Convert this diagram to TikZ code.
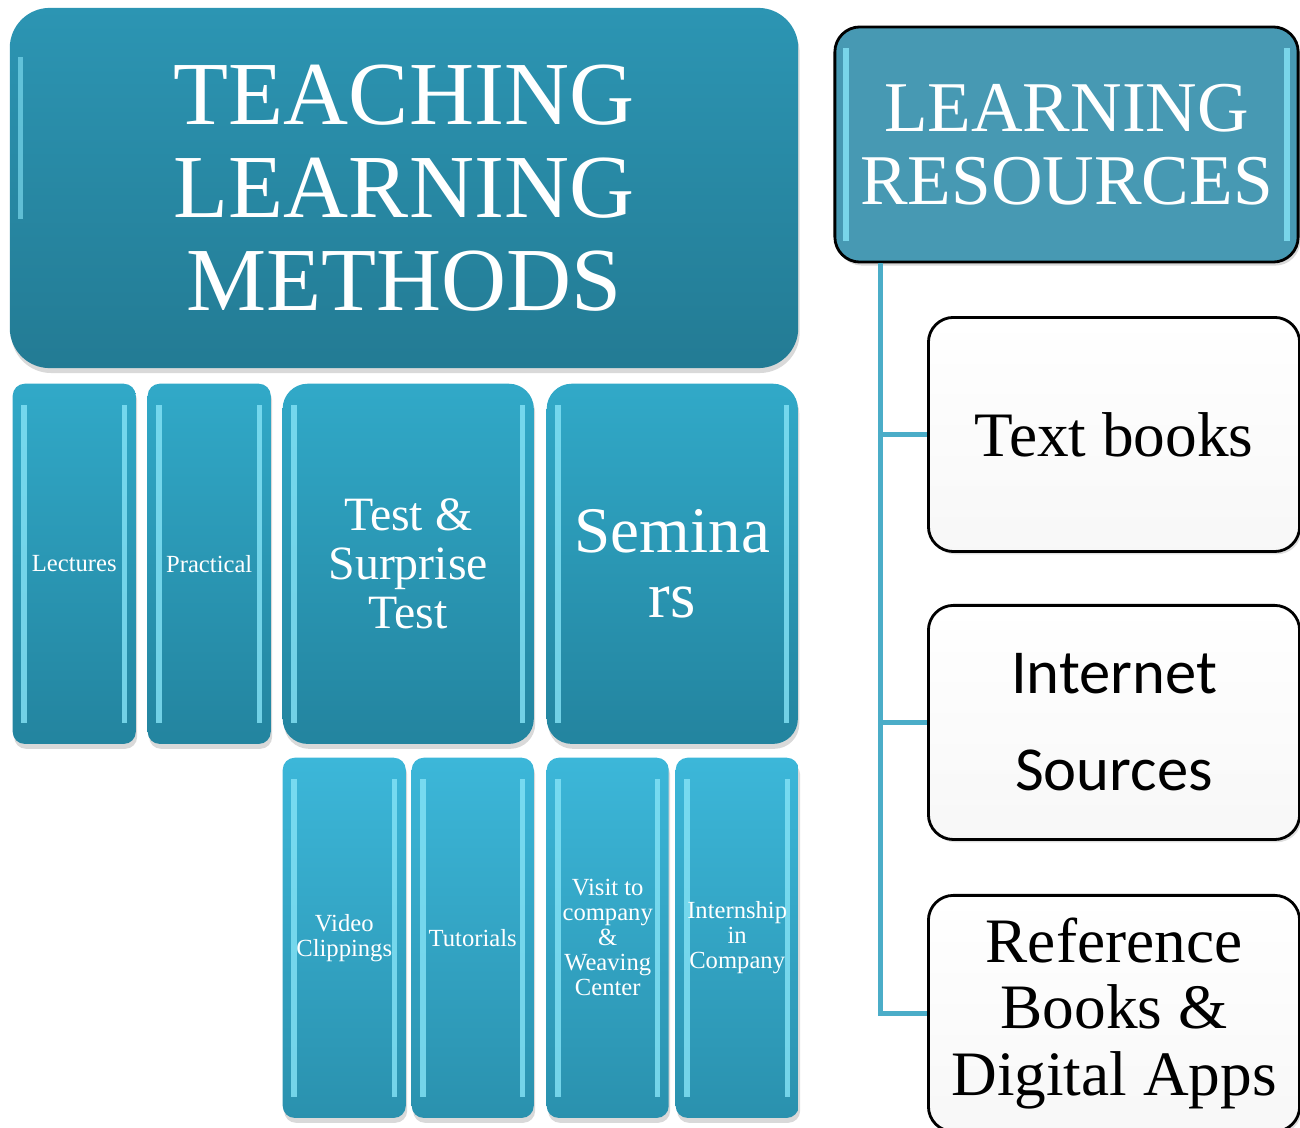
\documentclass[tikz,border=0pt]{standalone}
\usepackage{fontspec}
\setmainfont{Liberation Serif}
\newfontfamily\carlito{Carlito}
\usetikzlibrary{positioning,shadows}

\definecolor{tlmtop}{HTML}{2C95B3}
\definecolor{tlmbot}{HTML}{237B94}
\definecolor{rowtop}{HTML}{31A9C8}
\definecolor{rowbot}{HTML}{23849F}
\definecolor{lowtop}{HTML}{3CB7D9}
\definecolor{lowbot}{HTML}{2A91AE}
\definecolor{resfill}{HTML}{4799B3}
\definecolor{linkcol}{HTML}{4BADC8}
\definecolor{glintcol}{HTML}{86E4F7}

\begin{document}
\begin{tikzpicture}[x=0.01cm,y=-0.01cm,
		glint/.style={path picture={
			\draw[glintcol, line width=1.6pt, opacity=0.8]
			([xshift=3.2pt,yshift=-6pt]path picture bounding box.north west) --
			([xshift=3.2pt,yshift=6pt]path picture bounding box.south west);
			\draw[glintcol, line width=1.6pt, opacity=0.8]
			([xshift=-3.2pt,yshift=-6pt]path picture bounding box.north east) --
			([xshift=-3.2pt,yshift=6pt]path picture bounding box.south east);}},
		method/.style={draw=none, text=white, align=center, inner sep=1pt,
			rounded corners=0.12cm, top color=rowtop, bottom color=rowbot,
			minimum height=3.6cm, glint,
			drop shadow={shadow xshift=0.4pt, shadow yshift=-1.4pt, opacity=0.3}},
		slim/.style={method, minimum width=1.23cm, font=\fontsize{7}{7.1}\selectfont},
		wide/.style={method, minimum width=2.51cm, rounded corners=0.25cm},
		lowbox/.style={slim, top color=lowtop, bottom color=lowbot},
		source/.style={draw=black, line width=0.8pt, rounded corners=0.25cm,
			top color=white, bottom color=black!3, align=center,
			minimum width=3.71cm, minimum height=2.34cm, inner sep=1pt,
			drop shadow={shadow xshift=0.6pt, shadow yshift=-0.8pt, opacity=0.25}},
		link/.style={draw=linkcol, line width=1.4pt}
		]
		\useasboundingbox (0,0) rectangle (1300,1127);
		
		% teaching learning methods
		\node[method, minimum width=7.88cm, rounded corners=0.4cm,
		top color=tlmtop, bottom color=tlmbot, path picture={
			\draw[glintcol, line width=1.4pt, opacity=0.6]
			([xshift=3pt,yshift=-14pt]path picture bounding box.north west) --
			([xshift=3pt,yshift=-60pt]path picture bounding box.north west);},
		font=\fontsize{25.6}{26.5}\selectfont](TLM) at (404,188)
		{TEACHING\\LEARNING\\METHODS};
		
		\node[slim, anchor=north west](lec) at (12,383){Lectures};
		\node[slim, right=0.105cm of lec](prac){Practical};
		\node[wide, right=0.105cm of prac,
		font=\fontsize{13.6}{14}\selectfont](test){Test \&\\Surprise\\Test};
		\node[wide, right=0.115cm of test,
		font=\fontsize{18.5}{18.5}\selectfont](sem){Semina\\rs};
		
		\node[lowbox, anchor=north west](video) at (282,757){Video\\Clippings};
		\node[lowbox, right=0.045cm of video, minimum width=1.22cm](tut){Tutorials};
		\node[lowbox, right=0.115cm of tut, minimum width=1.22cm](visit)
		{Visit to\\company\\\&\\Weaving\\Center};
		\node[lowbox, right=0.055cm of visit](intern){Internship\\in\\Company};
		
		% learning resources
		\node[draw=black, line width=0.8pt, fill=resfill, text=white, align=center,
		rounded corners=0.25cm, minimum width=4.63cm, minimum height=2.35cm,
		font=\fontsize{20.3}{20.8}\selectfont, glint,
		drop shadow={shadow xshift=0.6pt, shadow yshift=-1pt, opacity=0.3}](LR)
		at (1066.5,144.5){LEARNING\\RESOURCES};
		
		\node[source, anchor=north west, font=\fontsize{18}{18.8}\selectfont](tb)
		at (927,316){Text books};
		\node[source, below=0.51cm of tb,
		font=\carlito\fontsize{17.8}{27.6}\selectfont](inet){Internet\\Sources};
		\node[source, below=0.53cm of inet, minimum height=2.36cm,
		font=\fontsize{18}{18.8}\selectfont](ref){Reference\\Books \&\\Digital Apps};
		
		\coordinate[xshift=0.47cm] (trunk) at (LR.south west);
		\draw[link] (trunk) |- (tb.west);
		\draw[link] (trunk) |- (inet.west);
		\draw[link] (trunk) |- (ref.west);
	\end{tikzpicture}
\end{document}
